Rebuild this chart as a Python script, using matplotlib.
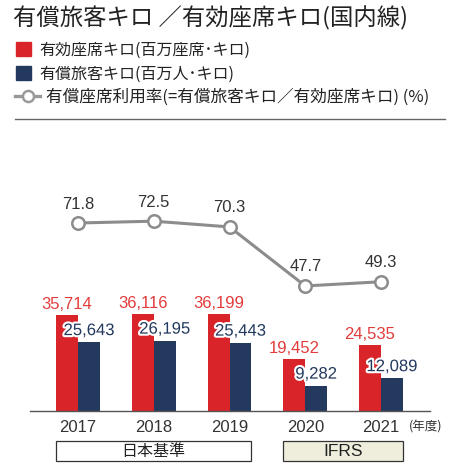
import matplotlib
matplotlib.use("Agg")
import matplotlib.pyplot as plt
import matplotlib.patheffects as pe
from matplotlib.patches import Rectangle
from matplotlib.lines import Line2D
import numpy as np

plt.rcParams['font.family'] = ['Noto Sans CJK JP', 'DejaVu Sans']

# data
years = ['2017', '2018', '2019', '2020', '2021']
seat_km = [35714, 36116, 36199, 19452, 24535]      # 有効座席キロ
pax_km = [25643, 26195, 25443, 9282, 12089]        # 有償旅客キロ
load_factor = [71.8, 72.5, 70.3, 47.7, 49.3]       # 有償座席利用率

RED = '#d9252a'
NAVY = '#233a5e'
GRAY = '#8c8c8c'
TXT = '#333333'
NUM = 'Liberation Sans'

W, H = 463, 464
fig = plt.figure(figsize=(W / 100, H / 100), dpi=100)

def fx(px):
    return px / W

def fy(py):
    return 1 - py / H

ax = fig.add_axes([fx(30), fy(411.5), fx(430) - fx(30), fy(130) - fy(411.5)])
x = np.arange(len(years))
bw = 0.29
ax.bar(x - bw / 2, seat_km, bw, color=RED, zorder=2)
ax.bar(x + bw / 2, pax_km, bw, color=NAVY, zorder=2)
ax.set_xlim(-0.634, 4.647)
ax.set_ylim(0, 105800)
for s in ['top', 'right', 'left']:
    ax.spines[s].set_visible(False)
ax.spines['bottom'].set_color('#555555')
ax.spines['bottom'].set_linewidth(1.0)
ax.set_yticks([])
ax.set_xticks(x)
ax.set_xticklabels(years, fontfamily=NUM, fontsize=12, color=TXT)
ax.tick_params(axis='x', length=0, pad=6)

white = [pe.withStroke(linewidth=3, foreground='white')]
for i in range(len(years)):
    ax.annotate(f'{seat_km[i]:,}', (x[i] - bw / 2, seat_km[i]), xytext=(0, 3),
                textcoords='offset points', ha='center', va='bottom',
                fontfamily=NUM, fontsize=12, color='#e23b3b', zorder=3)
    ax.annotate(f'{pax_km[i]:,}', (x[i] + bw / 2, pax_km[i]), xytext=(0, 3),
                textcoords='offset points', ha='center', va='bottom',
                fontfamily=NUM, fontsize=12, color=NAVY, zorder=4,
                path_effects=white)

ax2 = ax.twinx()
ax2.set_ylim(0, 107.8)
ax2.axis('off')
ax2.plot(x, load_factor, color=GRAY, lw=2.2, marker='o', ms=9,
         mfc='white', mec=GRAY, mew=1.8, zorder=5)
for i, v in enumerate(load_factor):
    ax2.annotate(f'{v}', (x[i], v), xytext=(0, 9), textcoords='offset points',
                 ha='center', va='bottom', fontfamily=NUM, fontsize=12, color=TXT)

# title
fig.text(fx(13), fy(18), '有償旅客キロ ／有効座席キロ(国内線)', fontsize=16.8,
         color='#222222', va='center', ha='left')

# legend
fig.add_artist(Rectangle((fx(16), fy(57)), fx(15), fy(43) - fy(57), color=RED,
                         transform=fig.transFigure))
fig.text(fx(39), fy(50), '有効座席キロ(百万座席･キロ)', fontsize=11.5,
         color='#222222', va='center')
fig.add_artist(Rectangle((fx(16), fy(81)), fx(15), fy(67) - fy(81), color=NAVY,
                         transform=fig.transFigure))
fig.text(fx(39), fy(74), '有償旅客キロ(百万人･キロ)', fontsize=11.5,
         color='#222222', va='center')
fig.add_artist(Line2D([fx(15), fx(40)], [fy(97), fy(97)], color='#999999', lw=2.4,
                      transform=fig.transFigure))
fig.add_artist(Line2D([fx(27.5)], [fy(97)], color='#999999', marker='o', ms=8,
                      mfc='white', mec='#999999', mew=1.8, transform=fig.transFigure))
fig.text(fx(46), fy(97), '有償座席利用率(=有償旅客キロ／有効座席キロ) (%)', fontsize=12,
         color='#222222', va='center')
fig.add_artist(Line2D([fx(15), fx(445)], [fy(120), fy(120)], color='#666666', lw=1.0,
                      transform=fig.transFigure))

# unit
fig.text(fx(409), fy(427), '(年度)', fontsize=9, color=TXT, va='center')

# accounting standard boxes
fig.add_artist(Rectangle((fx(56), fy(462)), fx(251) - fx(56), fy(442) - fy(462),
                         facecolor='white', edgecolor='#333333', lw=0.9,
                         transform=fig.transFigure))
fig.text(fx(153.5), fy(452), '日本基準', fontsize=11.5, color='#222222',
         ha='center', va='center')
fig.add_artist(Rectangle((fx(283), fy(462)), fx(403) - fx(283), fy(442) - fy(462),
                         facecolor='#efeedd', edgecolor='#333333', lw=0.9,
                         transform=fig.transFigure))
fig.text(fx(343), fy(452), 'IFRS', fontsize=12.5, fontfamily=NUM, color='#222222',
         ha='center', va='center')

fig.savefig('out.png', dpi=100)
